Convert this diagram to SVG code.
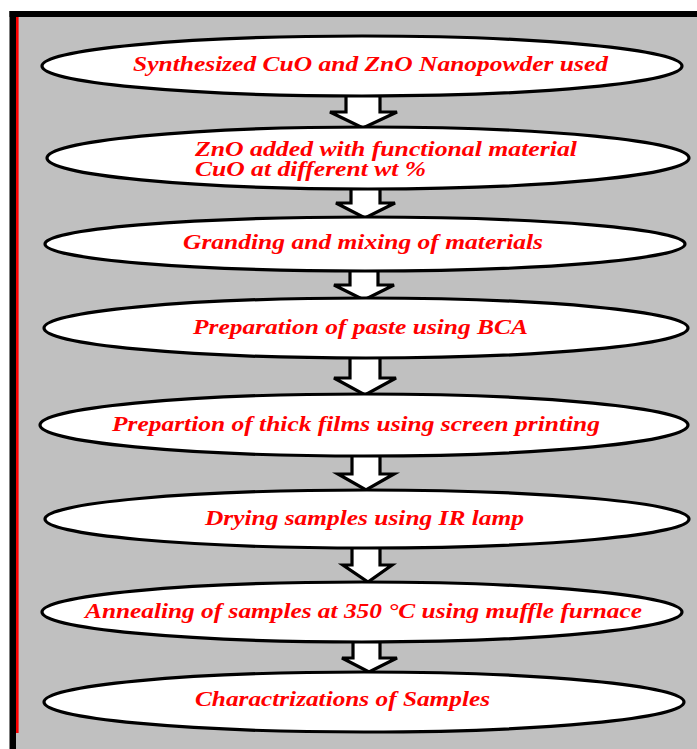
<svg xmlns="http://www.w3.org/2000/svg" width="697" height="749" viewBox="0 0 697 749">
<style>
.node ellipse{fill:#fff;stroke:#000;stroke-width:3.2}
.node text{font-family:"Liberation Serif","Times New Roman",serif;font-weight:bold;font-style:italic;font-size:20px;fill:#ff0000}
.arrow{fill:#fff;stroke:#000;stroke-width:3.2;stroke-linejoin:miter}
</style>
<rect x="0" y="0" width="697" height="749" fill="#fff"/>
<rect x="16" y="11" width="681" height="738" fill="#c0c0c0"/>
<rect x="9.5" y="11" width="6.5" height="738" fill="#000"/>
<rect x="9.5" y="11" width="687.5" height="6" fill="#000"/>
<rect x="16" y="17" width="2.6" height="716" fill="#ff0000"/>
<g id="connectors">
<path class="arrow" d="M346,92 L380,92 L380,112 L397,112 L363,128 L330,112 L346,112 Z"/>
<path class="arrow" d="M351,186 L380,186 L380,203 L395,203 L365,218 L336,203 L351,203 Z"/>
<path class="arrow" d="M350,268 L378,268 L378,285 L394,285 L364,300 L334,285 L350,285 Z"/>
<path class="arrow" d="M350,356 L380,356 L380,378 L396,378 L365,395 L334,378 L350,378 Z"/>
<path class="arrow" d="M352,455 L380,455 L380,474 L394,474 L366,490 L338,474 L352,474 Z"/>
<path class="arrow" d="M352,546 L380,546 L380,565 L392,565 L368,582 L343,565 L352,565 Z"/>
<path class="arrow" d="M353,641 L380,641 L380,658 L397,658 L369,672 L342,658 L353,658 Z"/>
</g>
<g id="n1" class="node"><ellipse cx="362" cy="66" rx="320" ry="30"/><text x="133" y="71" textLength="475" lengthAdjust="spacingAndGlyphs">Synthesized CuO and ZnO Nanopowder used</text></g>
<g id="n2" class="node"><ellipse cx="368" cy="158" rx="321" ry="31"/><text x="195" y="156" textLength="382" lengthAdjust="spacingAndGlyphs">ZnO added with functional material</text><text x="195" y="176" textLength="231" lengthAdjust="spacingAndGlyphs">CuO at different wt %</text></g>
<g id="n3" class="node"><ellipse cx="365" cy="244" rx="320" ry="27"/><text x="183" y="249" textLength="360" lengthAdjust="spacingAndGlyphs">Granding and mixing of materials</text></g>
<g id="n4" class="node"><ellipse cx="366" cy="328" rx="322" ry="30"/><text x="193" y="334" textLength="335" lengthAdjust="spacingAndGlyphs">Preparation of paste using BCA</text></g>
<g id="n5" class="node"><ellipse cx="364" cy="425" rx="324" ry="31"/><text x="112" y="431" textLength="488" lengthAdjust="spacingAndGlyphs">Prepartion of thick films using screen printing</text></g>
<g id="n6" class="node"><ellipse cx="367" cy="519" rx="322" ry="29"/><text x="205" y="525" textLength="319" lengthAdjust="spacingAndGlyphs">Drying samples using IR lamp</text></g>
<g id="n7" class="node"><ellipse cx="362" cy="612" rx="320" ry="30"/><text x="85" y="618" textLength="557" lengthAdjust="spacingAndGlyphs">Annealing of samples at 350 °C using muffle furnace</text></g>
<g id="n8" class="node"><ellipse cx="364" cy="702" rx="320" ry="30"/><text x="195" y="706" textLength="295" lengthAdjust="spacingAndGlyphs">Charactrizations of Samples</text></g>
</svg>
